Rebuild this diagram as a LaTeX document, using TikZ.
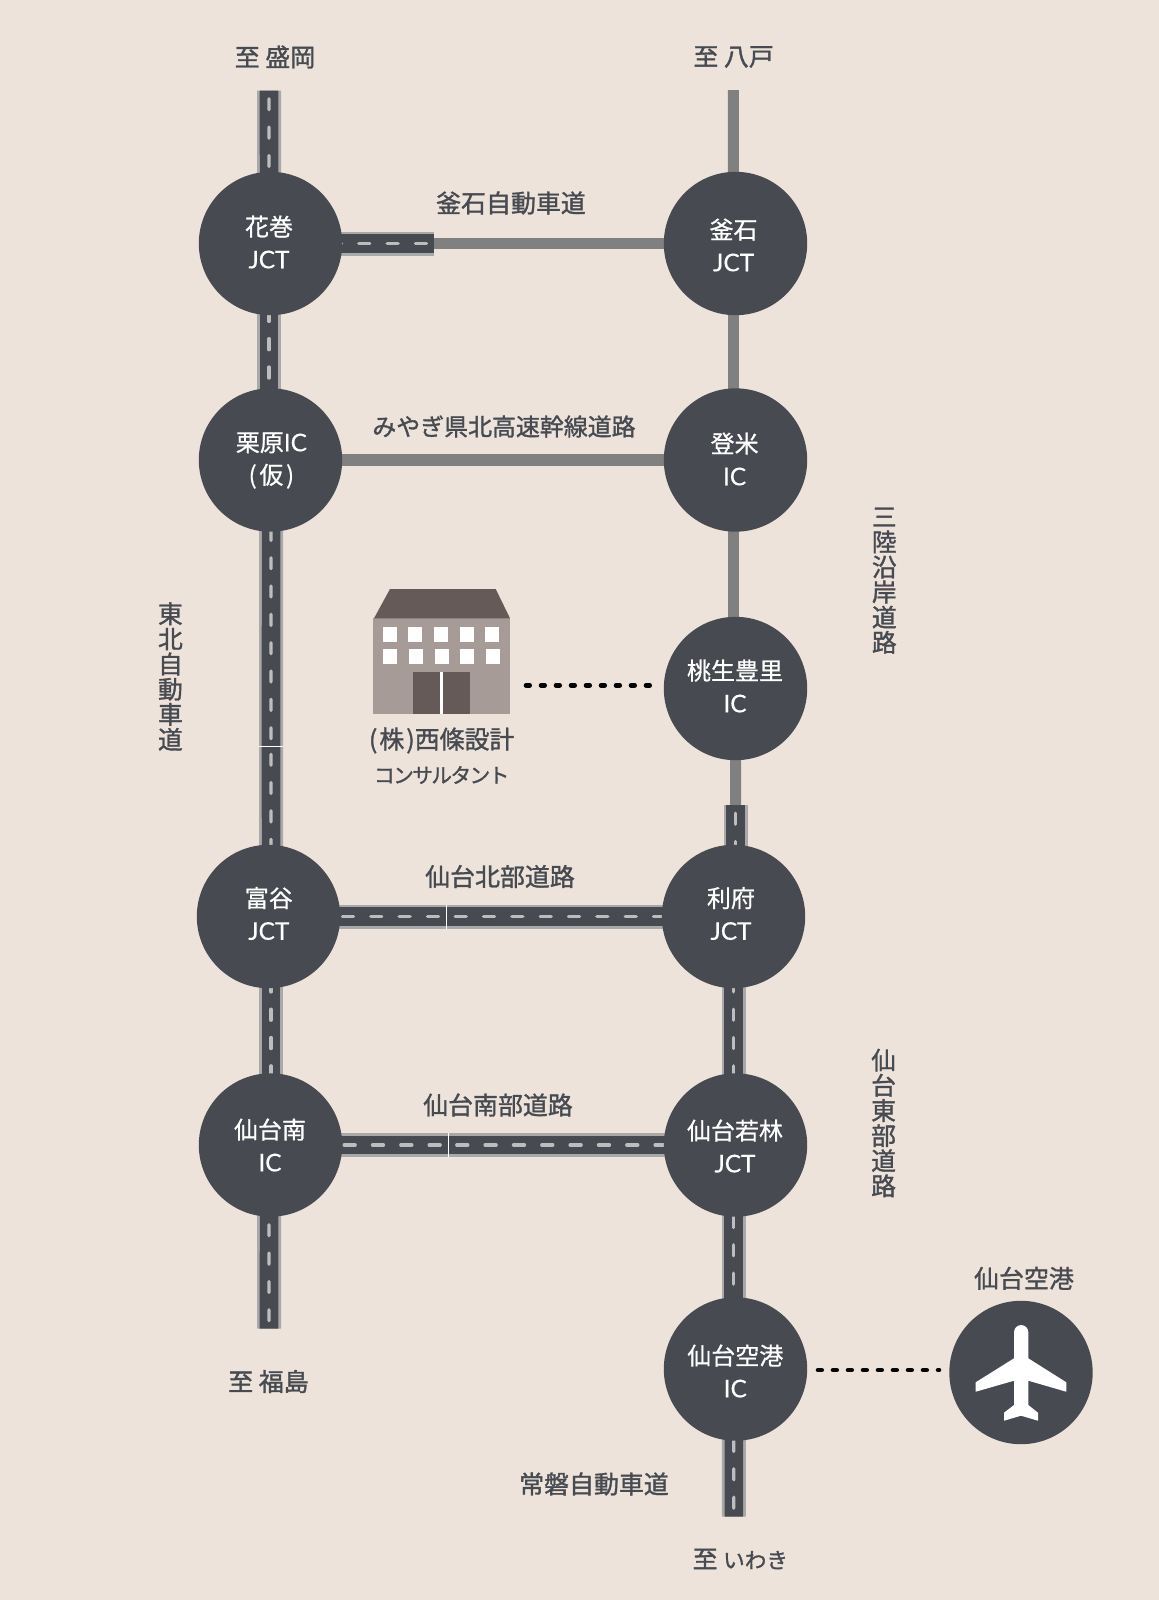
\documentclass[tikz,border=0pt]{standalone}
\usepackage{fontspec}
\usetikzlibrary{backgrounds}
\newfontfamily\jp[FakeBold=0.7]{Noto Sans CJK JP}
\newfontfamily\jpm[FakeBold=1.3]{Noto Sans CJK JP}
\newfontfamily\jpt[FakeBold=1.3,LetterSpace=-7.6]{Noto Sans CJK JP}
\newfontfamily\lat[FakeBold=0.4]{Lato}
\definecolor{bg}{HTML}{EDE3DB}
\definecolor{ink}{HTML}{474B51}
\definecolor{roadedge}{HTML}{A9A9A9}
\definecolor{roadmark}{HTML}{BDBDBD}
\definecolor{plainroad}{HTML}{808080}
\definecolor{roof}{HTML}{655A57}
\definecolor{wall}{HTML}{A69B97}
\newcommand\latl[1]{{\lat\fontsize{18.3}{24.45}\selectfont #1}}
\tikzset{
  junction/.style={circle,fill=ink,minimum size=107.55pt,inner sep=0pt},
  juncname/.style={text=white,align=center,inner sep=0pt,font=\jp\fontsize{18}{24.45}\selectfont},
  roadname/.style={text=ink,inner sep=0pt,font=\jpm\fontsize{18.7}{22}\selectfont},
  vname/.style={text=ink,inner sep=0pt,align=center,font=\jpm\fontsize{18.6}{18.85}\selectfont},
  plainline/.style={draw=plainroad,line width=8.3pt},
  dotline/.style={draw=black,line width=3.4pt,line cap=round,dash pattern=on 2.8pt off 8.45pt},
  wallbox/.style={fill=wall},
  roofbox/.style={fill=roof},
  winbox/.style={fill=white},
}
% \roadseg{from}{to}{distance of first dash from the start, px}
\newcommand\roadseg[3]{%
  \pgfmathsetmacro\rph{mod((28.33-#3-1.5)*0.75+42.5,21.25)}%
  \draw[draw=roadedge,line width=18pt] #1 -- #2;
  \draw[draw=ink,line width=13.9pt] #1 -- #2;
  \draw[draw=roadmark,line width=2.5pt,line cap=round,dash pattern=on 8.25pt off 13pt,dash phase=\rph pt] #1 -- #2;
}
\begin{document}
\begin{tikzpicture}[x=0.75pt,y=-0.75pt]
\useasboundingbox (0,0) rectangle (1159,1600);
% junctions
\node[junction] (hanamaki) at (270.5,243.5) {};
\node[junction] (kurihara) at (270.5,460) {};
\node[junction] (tomiya) at (268.5,916.5) {};
\node[junction] (minami) at (270.5,1145) {};
\node[junction] (kamaishi) at (735.5,243.5) {};
\node[junction] (tome) at (735.5,460) {};
\node[junction] (monou) at (735.5,688.5) {};
\node[junction] (rifu) at (733.5,916.5) {};
\node[junction] (wakabayashi) at (735.5,1145) {};
\node[junction] (airportic) at (735.5,1369) {};
\node[junction] (airport) at (1021,1372.5) {};
% free road ends
\coordinate (morioka) at (269,90.7);
\coordinate (hachinohe) at (733.3,90);
\coordinate (fukushima) at (269,1328.7);
\coordinate (iwaki) at (733.8,1516.7);
\coordinate (kamachange) at (434.3,243.5);
\coordinate (rifuchange) at (735.7,805);
\coordinate (joint1) at (271,746);
\coordinate (joint2) at (446.3,916.5);
\coordinate (joint3) at (448.3,1145);
\coordinate (bldgdot) at (526,685.3);
\coordinate (momoudot) at (650,685.3);
\coordinate (airdot) at (818,1370);
\coordinate (airdotend) at (939,1370);
\begin{pgfonlayer}{background}
\fill[bg] (0,0) rectangle (1159,1600);
% left column
\roadseg{(morioka)}{([xshift=-1.1pt]hanamaki.center)}{6.6}
\roadseg{([xshift=-1.1pt]hanamaki.center)}{([xshift=-1.1pt]kurihara.center)}{8.7}
\roadseg{([xshift=.4pt]kurihara.center)}{(joint1)}{11.2}
\roadseg{(joint1)}{([xshift=1.9pt]tomiya.center)}{6.7}
\roadseg{([xshift=1.9pt]tomiya.center)}{([xshift=.4pt]minami.center)}{6.2}
\roadseg{([xshift=-1.1pt]minami.center)}{(fukushima)}{21.6}
% right column
\draw[plainline] (hachinohe) -- ([xshift=-1.65pt]kamaishi.center);
\draw[plainline] ([xshift=-1.65pt]kamaishi.center) -- ([xshift=-1.65pt]tome.center);
\draw[plainline] ([xshift=-1.3pt]tome.center) -- ([xshift=-1.3pt]monou.center);
\draw[plainline] (monou.center) -- (rifuchange);
\roadseg{(rifuchange)}{([xshift=1.65pt]rifu.center)}{6.7}
\roadseg{([xshift=.15pt]rifu.center)}{([xshift=-1.35pt]wakabayashi.center)}{6.2}
\roadseg{([xshift=-1.35pt]wakabayashi.center)}{([xshift=-1.35pt]airportic.center)}{13.3}
\roadseg{([xshift=-1.3pt]airportic.center)}{(iwaki)}{13.3}
% cross roads
\roadseg{(hanamaki.center)}{(kamachange)}{1.8}
\draw[plainline] (kamachange) -- (kamaishi.center);
\draw[plainline] (kurihara.center) -- (tome.center);
\roadseg{(tomiya.center)}{(joint2)}{15.8}
\roadseg{(joint2)}{(rifu.center)}{7.4}
\roadseg{(minami.center)}{(joint3)}{15.5}
\roadseg{(joint3)}{(wakabayashi.center)}{7}
% road joints
\draw[white,line width=.5pt] ([xshift=-9pt]joint1) -- ([xshift=9pt]joint1);
\draw[white,line width=.5pt] ([yshift=-9pt]joint2) -- ([yshift=9pt]joint2);
\draw[white,line width=.5pt] ([yshift=-9pt]joint3) -- ([yshift=9pt]joint3);
\end{pgfonlayer}
% dotted links
\draw[dotline] (bldgdot) -- (momoudot);
\draw[dotline] (airdot) -- (airdotend);
% junction names
\node[juncname] (t1) at (269,242) {花巻\\\latl{JCT}};
\node[juncname] (t2) at (271.4,460.5) {栗原\latl{IC}\\({\kern2pt}仮{\kern2pt})};
\node[juncname] (t3) at (268.8,913.5) {富谷\\\latl{JCT}};
\node[juncname] (t4) at (270,1145) {仙台南\\\latl{IC}};
\node[juncname] (t5) at (733.6,245) {釜石\\\latl{JCT}};
\node[juncname] (t6) at (734.6,459) {登米\\\latl{IC}};
\node[juncname] (t7) at (735,686) {桃生豊里\\\latl{IC}};
\node[juncname] (t8) at (731,913.5) {利府\\\latl{JCT}};
\node[juncname] (t9) at (735,1146) {仙台若林\\\latl{JCT}};
\node[juncname] (t10) at (735.3,1371) {仙台空港\\\latl{IC}};
% road names
\node[roadname] (n1) at (275,57) {至 盛岡};
\node[roadname] (n2) at (733.6,57) {至 八戸};
\node[roadname] (n3) at (511,203) {釜石自動車道};
\node[roadname,font=\jpm\fontsize{17.95}{22}\selectfont] (n4) at (504,426.5) {みやぎ県北高速幹線道路};
\node[roadname] (n5) at (441.7,740.5) {({\kern1.5pt}株{\kern1.5pt})西條設計};
\node[roadname,font=\jpt\fontsize{15.5}{18}\selectfont] (n6) at (441.7,775) {コンサルタント};
\node[roadname] (n7) at (500,876.5) {仙台北部道路};
\node[roadname] (n8) at (498,1105) {仙台南部道路};
\node[roadname] (n9) at (1024,1278.3) {仙台空港};
\node[roadname] (n10) at (268.5,1381.5) {至 福島};
\node[roadname] (n11) at (594,1484) {常磐自動車道};
\node[roadname] (n12) at (740.3,1559) {至 {\fontsize{16.2}{22}\selectfont いわき}};
\node[vname] (v1) at (170.4,676.5) {東\\北\\自\\動\\車\\道};
\node[vname] (v2) at (884.3,580.7) {三\\陸\\沿\\岸\\道\\路};
\node[vname] (v3) at (883.6,1123) {仙\\台\\東\\部\\道\\路};
% building
\fill[wallbox] (373.3,618.3) rectangle (510,713.7);
\fill[roofbox] (390,589) -- (495.7,589) -- (510,618.3) -- (374,618.3) -- cycle;
\foreach \wx in {382.7,408.3,434,460,485.3} \fill[winbox] (\wx,627.3) rectangle ++(14,14.4);
\foreach \wx in {383.3,409,434.7,460.3,486} \fill[winbox] (\wx,649.3) rectangle ++(14,14.4);
\fill[roofbox] (413,672.3) rectangle (440.3,713.7);
\fill[roofbox] (443,672.3) rectangle (470,713.7);
\fill[winbox] (440.3,672.3) rectangle (443,713.7);
% plane
\fill[white] (1014,1332.2) arc[start angle=180,end angle=360,radius=7.15] -- (1028.3,1358.3) -- (1066.3,1382.3) -- (1066.3,1391.7) -- (1028.3,1380.7) -- (1028.3,1405) -- (1038,1412.7) -- (1038,1420.7) -- (1021,1415.7) -- (1004,1420.7) -- (1004,1412.7) -- (1014,1405) -- (1014,1380.7) -- (975.7,1391.7) -- (975.7,1382.3) -- (1014,1358.3) -- cycle;
\end{tikzpicture}
\end{document}
